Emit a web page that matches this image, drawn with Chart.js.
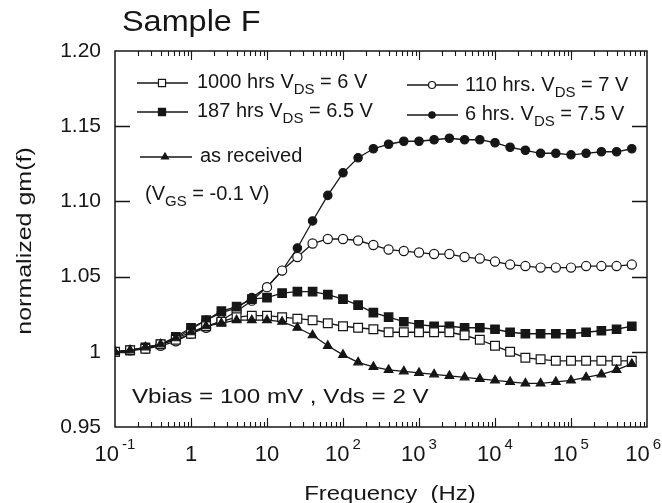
<!DOCTYPE html>
<html><head><meta charset="utf-8">
<script src="https://cdn.jsdelivr.net/npm/chart.js@4.4.0/dist/chart.umd.min.js"></script>
<style>html,body{margin:0;padding:0;background:#fff;}</style>
</head><body>
<canvas id="c" width="662" height="503"></canvas>
<script>
const FONT = '"Liberation Sans", Arial, Helvetica, sans-serif';
const INK = '#161616';

// Frequencies (Hz), 5 points per decade
const frequencies = [0.1, 0.158, 0.251, 0.398, 0.631, 1, 1.58, 2.51, 3.98, 6.31,
  10, 15.8, 25.1, 39.8, 63.1, 100, 158, 251, 398, 631,
  1000, 1580, 2510, 3980, 6310, 10000, 15800, 25100, 39800, 63100,
  100000, 158000, 251000, 398000, 631000];

// 1000 hrs VDS = 6 V (open squares)
const hrs1000 = [1.000, 1.001, 1.002, 1.005, 1.008, 1.012, 1.017, 1.020, 1.023, 1.024,
  1.024, 1.023, 1.022, 1.021, 1.019, 1.017, 1.016, 1.015, 1.013, 1.013,
  1.013, 1.013, 1.013, 1.011, 1.008, 1.004, 1.000, 0.996, 0.995, 0.994,
  0.994, 0.994, 0.994, 0.994, 0.994];

// 110 hrs. VDS = 7 V (open circles)
const hrs110 = [1.000, 1.001, 1.002, 1.004, 1.007, 1.012, 1.016, 1.021, 1.027, 1.034,
  1.043, 1.054, 1.063, 1.072, 1.075, 1.075, 1.074, 1.071, 1.068, 1.067,
  1.066, 1.065, 1.065, 1.063, 1.062, 1.060, 1.058, 1.057, 1.056, 1.056,
  1.056, 1.057, 1.057, 1.057, 1.058];

// 187 hrs VDS = 6.5 V (filled squares)
const hrs187 = [1.000, 1.001, 1.003, 1.005, 1.010, 1.016, 1.021, 1.027, 1.030, 1.035,
  1.036, 1.039, 1.040, 1.040, 1.038, 1.035, 1.031, 1.026, 1.023, 1.020,
  1.018, 1.017, 1.017, 1.016, 1.016, 1.015, 1.013, 1.012, 1.012, 1.012,
  1.012, 1.013, 1.014, 1.015, 1.017];

// 6 hrs. VDS = 7.5 V (filled circles)
const hrs6 = [1.000, 1.001, 1.003, 1.005, 1.009, 1.015, 1.021, 1.026, 1.029, 1.036,
  1.043, 1.054, 1.069, 1.087, 1.104, 1.119, 1.129, 1.135, 1.138, 1.140,
  1.140, 1.141, 1.142, 1.141, 1.141, 1.139, 1.136, 1.134, 1.132, 1.132,
  1.131, 1.132, 1.133, 1.133, 1.135];

// as received (filled triangles)
const asReceived = [1.000, 1.001, 1.003, 1.005, 1.009, 1.013, 1.017, 1.019, 1.021, 1.021,
  1.021, 1.020, 1.016, 1.011, 1.004, 0.998, 0.993, 0.990, 0.988, 0.987,
  0.986, 0.985, 0.984, 0.983, 0.982, 0.981, 0.980, 0.979, 0.979, 0.980,
  0.981, 0.983, 0.985, 0.988, 0.992];

// Axis tick labels
const xTickValues = [0.1, 1, 10, 100, 1000, 10000, 100000, 1000000];
const xTickBase = ['10', '1', '10', '10', '10', '10', '10', '10'];
const xTickExp = ['-1', '', '', '2', '3', '4', '5', '6'];
const yMin = 0.95, yMax = 1.20, yStep = 0.05;

const pts = arr => arr.map((v, i) => ({x: frequencies[i], y: v}));

function ds(label, arr, style, radius, filled) {
  return {
    label, data: pts(arr), pointStyle: style, pointRadius: radius,
    pointBackgroundColor: filled ? INK : '#fff', pointBorderColor: INK,
    pointBorderWidth: 1.2, borderColor: INK, borderWidth: 1.3,
    tension: 0, fill: false
  };
}

function rich(ctx, parts, x, y, size, sx) {
  ctx.save();
  ctx.translate(x, y);
  ctx.scale(sx || 1, 1);
  ctx.textAlign = 'left';
  ctx.textBaseline = 'alphabetic';
  ctx.fillStyle = INK;
  let cx = 0;
  for (const p of parts) {
    const fs = p.sub ? size * 0.75 : size;
    ctx.font = fs + 'px ' + FONT;
    ctx.fillText(p.t, cx, p.sub ? size * 0.3 : 0);
    cx += ctx.measureText(p.t).width;
  }
  ctx.restore();
}

function legendItem(ctx, x1, x2, xm, y, style, radius, filled) {
  ctx.save();
  ctx.strokeStyle = INK;
  ctx.lineWidth = 1.3;
  ctx.beginPath(); ctx.moveTo(x1, y); ctx.lineTo(x2, y); ctx.stroke();
  ctx.fillStyle = filled ? INK : '#fff';
  ctx.lineWidth = 1.2;
  Chart.helpers.drawPoint(ctx, {pointStyle: style, radius: radius, borderWidth: 1.2, rotation: 0}, xm, y);
  ctx.restore();
}

const decor = {
  id: 'decor',
  afterDraw(chart) {
    const ctx = chart.ctx, ca = chart.chartArea;
    const xs = chart.scales.x, ys = chart.scales.y;
    ctx.save();
    ctx.strokeStyle = INK;
    ctx.lineWidth = 1.5;
    ctx.strokeRect(ca.left, ca.top, ca.right - ca.left, ca.bottom - ca.top);
    // y ticks (inward on both sides)
    ctx.lineWidth = 1.3;
    ys.ticks.forEach(t => {
      const py = Math.round(ys.getPixelForValue(t.value)) + 0.5;
      if (py <= ca.top + 1 || py >= ca.bottom - 1) return;
      ctx.beginPath();
      ctx.moveTo(ca.left, py); ctx.lineTo(ca.left + 15, py);
      ctx.moveTo(ca.right, py); ctx.lineTo(ca.right - 15, py);
      ctx.stroke();
    });
    // x ticks (log, inward top and bottom)
    ctx.lineWidth = 1.1;
    for (let d = -1; d <= 5; d++) {
      for (let m = 1; m <= 10; m++) {
        const v = m * Math.pow(10, d);
        const px = Math.round(xs.getPixelForValue(v)) + 0.5;
        if (px <= ca.left + 1 || px >= ca.right - 1) continue;
        const len = (m === 10) ? 9 : 5;
        ctx.beginPath();
        ctx.moveTo(px, ca.bottom); ctx.lineTo(px, ca.bottom - len);
        ctx.moveTo(px, ca.top); ctx.lineTo(px, ca.top + len);
        ctx.stroke();
      }
    }
    ctx.restore();

    // x tick labels with superscripts
    ctx.save();
    ctx.fillStyle = INK;
    ctx.textBaseline = 'alphabetic';
    xTickValues.forEach((v, i) => {
      const px = xs.getPixelForValue(v);
      ctx.font = '22px ' + FONT;
      const wb = ctx.measureText(xTickBase[i]).width;
      ctx.font = '15px ' + FONT;
      const we = xTickExp[i] ? ctx.measureText(xTickExp[i]).width + 3 : 0;
      let x0 = px - (wb + we) / 2;
      if (x0 + wb + we > 661) x0 = 661 - wb - we;
      ctx.font = '22px ' + FONT;
      ctx.fillText(xTickBase[i], x0, 461);
      if (xTickExp[i]) {
        ctx.font = '15px ' + FONT;
        ctx.fillText(xTickExp[i], x0 + wb + 3, 449);
      }
    });
    ctx.restore();

    // Title
    rich(ctx, [{t: 'Sample F'}], 122, 31, 30, 1.08);
    // Axis titles
    ctx.save();
    ctx.fillStyle = INK;
    ctx.font = '21px ' + FONT;
    ctx.textAlign = 'center';
    ctx.textBaseline = 'alphabetic';
    ctx.translate(390, 500);
    ctx.scale(1.14, 1);
    ctx.fillText('Frequency  (Hz)', 0, 0);
    ctx.restore();
    ctx.save();
    ctx.fillStyle = INK;
    ctx.font = '21px ' + FONT;
    ctx.textAlign = 'center';
    ctx.textBaseline = 'middle';
    ctx.translate(25, 241);
    ctx.rotate(-Math.PI / 2);
    ctx.scale(1.19, 1);
    ctx.fillText('normalized gm(f)', 0, 0);
    ctx.restore();

    // Legend
    legendItem(ctx, 137, 188, 162, 83, 'rect', 5, false);
    rich(ctx, [{t: '1000 hrs V'}, {t: 'DS', sub: true}, {t: ' = 6 V'}], 197, 88, 20);
    legendItem(ctx, 137, 188, 162, 112, 'rect', 5, true);
    rich(ctx, [{t: '187 hrs V'}, {t: 'DS', sub: true}, {t: ' = 6.5 V'}], 197, 117, 20);
    legendItem(ctx, 140, 192, 165, 157, 'triangle', 4, true);
    rich(ctx, [{t: 'as received'}], 200, 162, 20);
    legendItem(ctx, 407, 458, 432, 85, 'circle', 3.5, false);
    rich(ctx, [{t: '110 hrs. V'}, {t: 'DS', sub: true}, {t: ' = 7 V'}], 465, 91, 20);
    legendItem(ctx, 407, 458, 432, 115, 'circle', 3.2, true);
    rich(ctx, [{t: '6 hrs. V'}, {t: 'DS', sub: true}, {t: ' = 7.5 V'}], 465, 120, 20);
    rich(ctx, [{t: '(V'}, {t: 'GS', sub: true}, {t: ' = -0.1 V)'}], 145, 200, 20);
    rich(ctx, [{t: 'Vbias = 100 mV , Vds = 2 V'}], 132, 403, 21, 1.15);
  }
};

new Chart(document.getElementById('c'), {
  type: 'line',
  data: {
    datasets: [
      ds('as received', asReceived, 'triangle', 5, true),
      ds('1000 hrs VDS = 6 V', hrs1000, 'rect', 6.2, false),
      ds('187 hrs VDS = 6.5 V', hrs187, 'rect', 6, true),
      ds('110 hrs. VDS = 7 V', hrs110, 'circle', 4.6, false),
      ds('6 hrs. VDS = 7.5 V', hrs6, 'circle', 4.2, true)
    ]
  },
  options: {
    responsive: false,
    animation: false,
    devicePixelRatio: 1,
    layout: {padding: {left: 0, top: 51, right: 15, bottom: 0}},
    plugins: {legend: {display: false}, tooltip: {enabled: false}, title: {display: false}},
    scales: {
      x: {
        type: 'logarithmic', min: 0.1, max: 1000000,
        grid: {display: false, drawTicks: false},
        border: {display: false},
        ticks: {display: false},
        afterFit: s => { s.height = 76; }
      },
      y: {
        type: 'linear', min: yMin, max: yMax,
        grid: {display: false, drawTicks: false},
        border: {display: false},
        ticks: {
          stepSize: yStep, padding: 14, color: INK,
          font: {family: FONT, size: 21},
          callback: v => Math.abs(v - 1) < 1e-9 ? '1' : Number(v).toFixed(2)
        },
        afterFit: s => { s.width = 115; }
      }
    }
  },
  plugins: [decor]
});
</script>
</body></html>
